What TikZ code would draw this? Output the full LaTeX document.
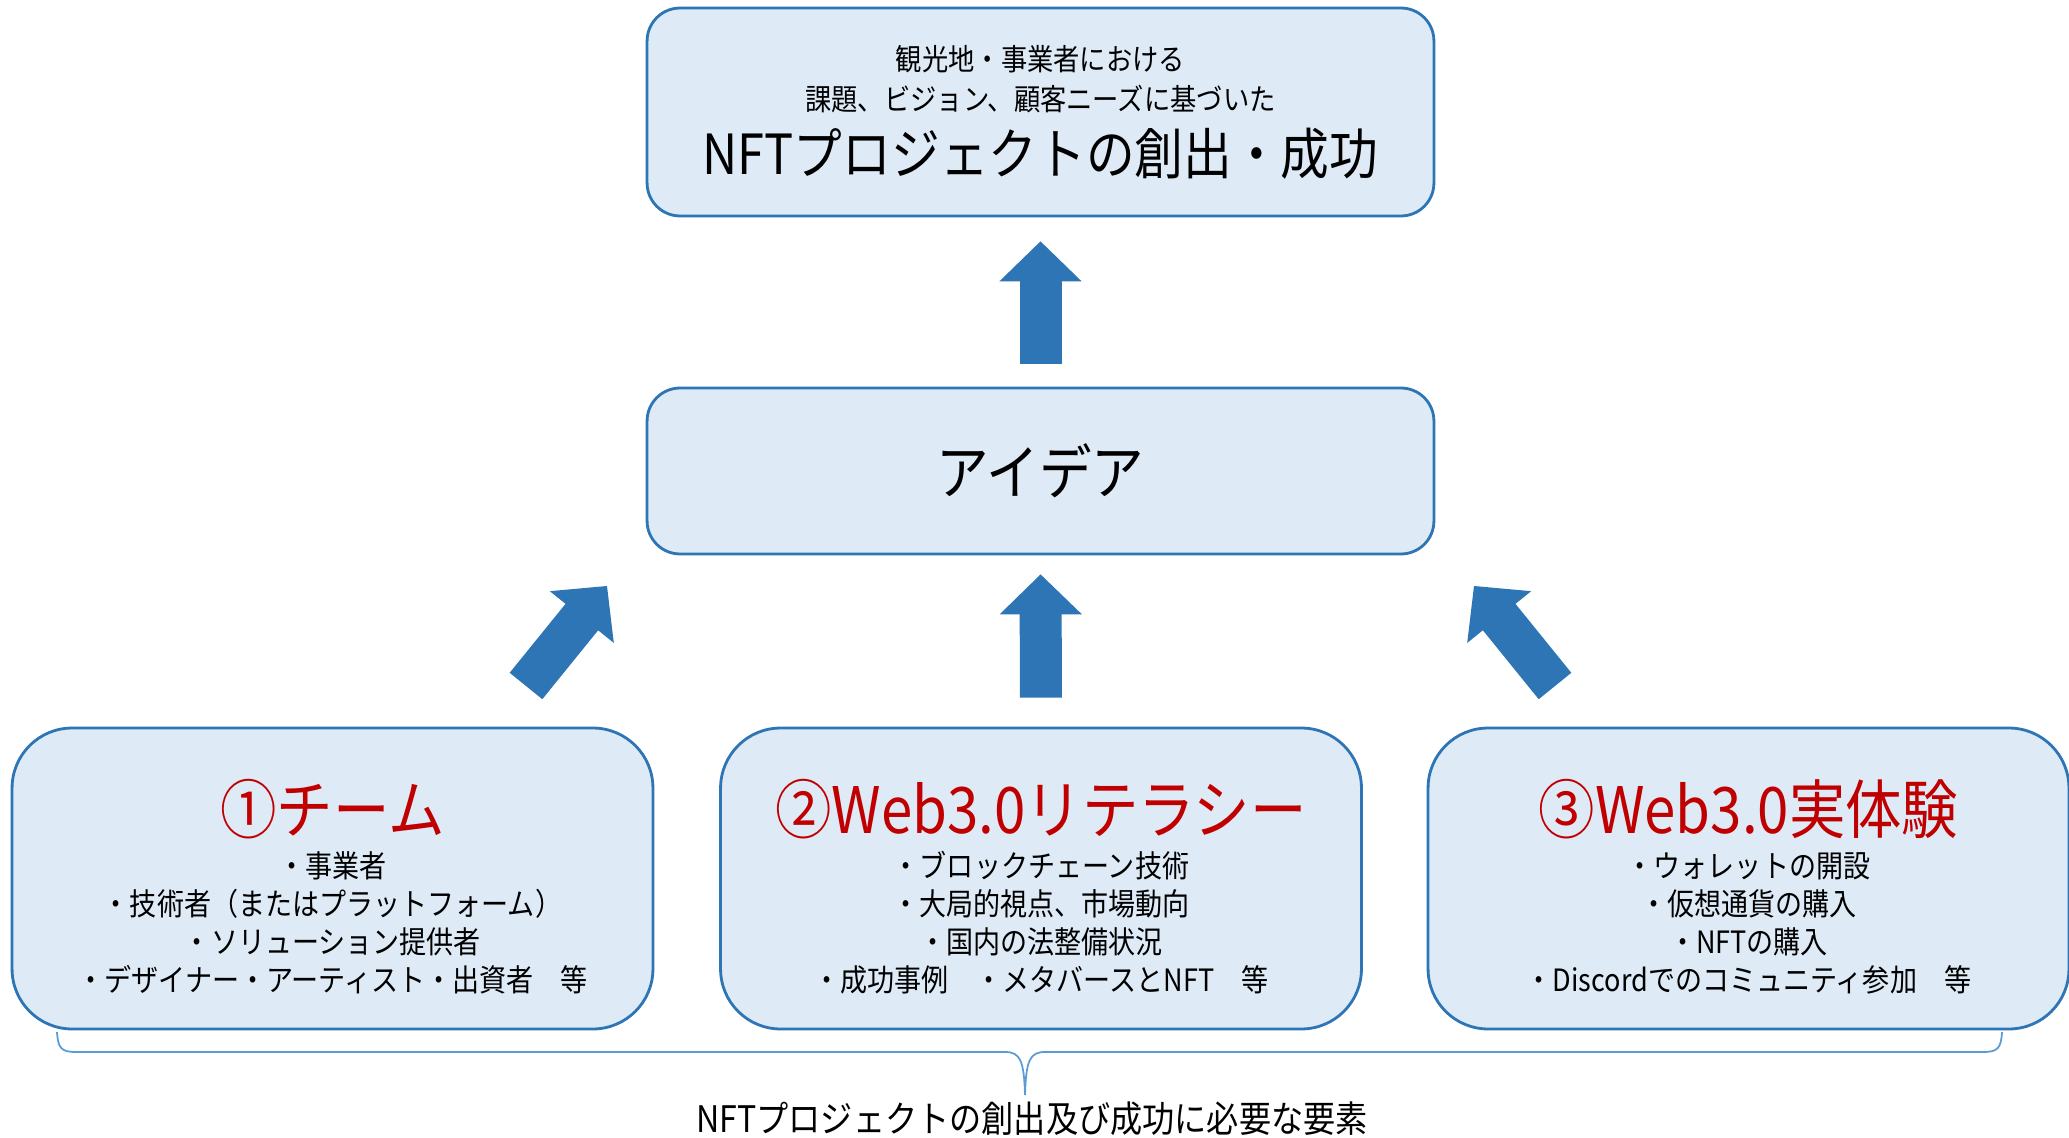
\documentclass[tikz,border=0pt]{standalone}
\usepackage{fontspec}
\newfontfamily\jpfont[FakeStretch=0.88]{Noto Sans CJK JP}
\usepackage{tikz}
\usetikzlibrary{arrows.meta}
\definecolor{boxfill}{HTML}{DEEBF7}
\definecolor{boxline}{HTML}{2E75B6}
\definecolor{arrowblue}{HTML}{2E75B6}
\definecolor{bracecol}{HTML}{5B9BD5}
\definecolor{titlered}{HTML}{C00000}
\tikzset{
  panel/.style={draw=boxline, fill=boxfill, line width=1.6pt, rounded corners=0.66cm,
    minimum width=15.74cm},
  lowpanel/.style={draw=boxline, fill=boxfill, line width=1.6pt, rounded corners=1.2cm,
    minimum width=12.82cm, minimum height=6.02cm},
  bigarrow/.style={draw=arrowblue, line width=0.84cm,
    -{Triangle[width=1.64cm,length=0.8cm,line width=1pt]}},
  heading/.style={font=\jpfont\fontsize{36.5}{40}\selectfont, text=titlered},
  itemlist/.style={font=\jpfont\fontsize{17.5}{21.6}\selectfont, align=center},
}

\begin{document}
\begin{tikzpicture}[x=0.02cm, y=-0.02cm]
\useasboundingbox (0,0) rectangle (2069,1138);

% boxes
\node[panel, minimum height=4.16cm] (goal) at (1040.5,112) {};
\node[panel, minimum height=3.32cm] (idea) at (1040.5,471) {};
\node[lowpanel] (team) at (332.5,878.5) {};
\node[lowpanel] (lit) at (1041,878.5) {};
\node[lowpanel] (exp) at (1748.5,878.5) {};

% top box
\node[font=\jpfont\fontsize{17}{22.8}\selectfont, align=center] (goalsub) at (1040.5,79)
  {観光地・事業者における\\課題、ビジョン、顧客ニーズに基づいた};
\node[font=\jpfont\fontsize{31.5}{36}\selectfont] (goaltext) at (1040.5,154)
  {NFTプロジェクトの創出・成功};

\node[font=\jpfont\fontsize{34}{40}\selectfont] (ideatext) at (1040.5,471) {アイデア};

% three elements
\node[heading] (teamtitle) at (332.5,809) {①チーム};
\node[itemlist] (teamitems) at (332.5,923)
  {・事業者\\・技術者（またはプラットフォーム）\\・ソリューション提供者\\・デザイナー・アーティスト・出資者　等};

\node[heading] (littitle) at (1041,809) {②Web3.0リテラシー};
\node[itemlist] (lititems) at (1041,923)
  {・ブロックチェーン技術\\・大局的視点、市場動向\\・国内の法整備状況\\・成功事例　・メタバースとNFT　等};

\node[heading] (exptitle) at (1748.5,809) {③Web3.0実体験};
\node[itemlist] (expitems) at (1748.5,923)
  {・ウォレットの開設\\・仮想通貨の購入\\・NFTの購入\\・Discordでのコミュニティ参加　等};

% block arrows
\coordinate (ltail) at (526,686);
\coordinate (ltip) at (607,586);
\coordinate (rtail) at (1555,686);
\coordinate (rtip) at (1474,586);
\draw[bigarrow, shorten <=0.46cm, shorten >=0.48cm] (idea.north) -- (goal.south);
\draw[bigarrow, shorten <=0.58cm, shorten >=0.38cm] (lit.north) -- (idea.south);
\draw[bigarrow] (ltail) -- (ltip);
\draw[bigarrow] (rtail) -- (rtip);

% brace
\draw[bracecol, line width=1pt] (57,1032) .. controls (58,1048) and (61,1052) .. (76,1052)
  -- (1005,1052) .. controls (1020,1052) and (1024,1060) .. (1025,1095)
  .. controls (1026,1060) and (1030,1052) .. (1045,1052)
  -- (1983,1052) .. controls (1998,1052) and (2001,1048) .. (2002,1032);
\node[font=\jpfont\fontsize{20.8}{24}\selectfont] (summary) at (1032,1119)
  {NFTプロジェクトの創出及び成功に必要な要素};
\end{tikzpicture}
\end{document}
